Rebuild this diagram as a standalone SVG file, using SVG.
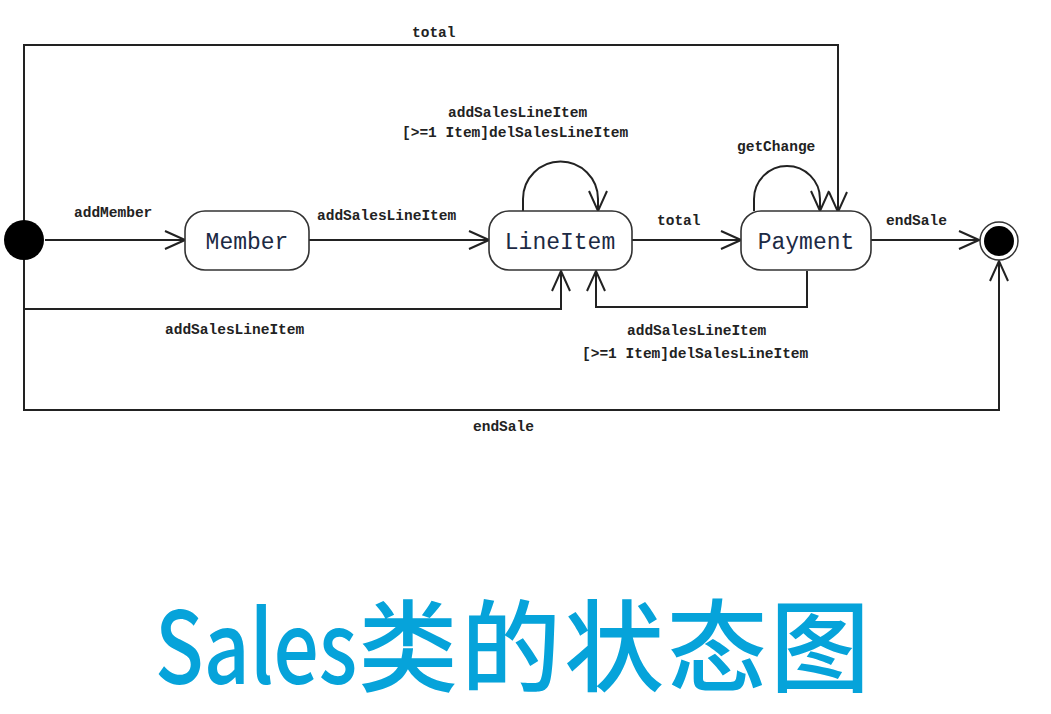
<svg xmlns="http://www.w3.org/2000/svg" width="1051" height="714" viewBox="0 0 1051 714">
<defs>
<marker id="arr" viewBox="0 0 22 20" refX="21" refY="10" markerWidth="22" markerHeight="20" markerUnits="userSpaceOnUse" orient="auto">
<path d="M1,1 L21,10 L1,19" fill="none" stroke="#222" stroke-width="2"/>
</marker>
<style>
.ln{fill:none;stroke:#222;stroke-width:2}
.box{fill:#fff;stroke:#333;stroke-width:1.6}
.lbl{font-family:"Liberation Mono","DejaVu Sans Mono",monospace;font-size:14.5px;font-weight:bold;fill:#222}
.nt{font-family:"Liberation Mono","DejaVu Sans Mono",monospace;font-size:23px;fill:#1c2a44;text-anchor:middle}
.tt{font-family:"Noto Sans CJK SC",sans-serif;font-weight:500;fill:#06A3DA}
</style>
</defs>
<rect width="1051" height="714" fill="#fff"/>
<g id="connectors">
<path class="ln" d="M24,240 V410 H999 V261" marker-end="url(#arr)"/>
<path class="ln" d="M24,240 V45 H838 V212" marker-end="url(#arr)"/>
<path class="ln" d="M24,309 H561 V271" marker-end="url(#arr)"/>
<path class="ln" d="M807,271 V307 H596 V271" marker-end="url(#arr)"/>
<path class="ln" d="M45,240 H185" marker-end="url(#arr)"/>
<path class="ln" d="M309,240 H489" marker-end="url(#arr)"/>
<path class="ln" d="M632,240 H741" marker-end="url(#arr)"/>
<path class="ln" d="M871,240 H979" marker-end="url(#arr)"/>
<path class="ln" d="M523,211 V199 A37.5,37.5 0 0 1 598,199 V211" marker-end="url(#arr)"/>
<path class="ln" d="M754,211 V199 A33,33 0 0 1 820,199 V211" marker-end="url(#arr)"/>
<text class="lbl" x="412" y="37">total</text>
<text class="lbl" x="74" y="217">addMember</text>
<text class="lbl" x="317" y="220">addSalesLineItem</text>
<text class="lbl" x="448" y="117">addSalesLineItem</text>
<text class="lbl" x="402" y="137">[&gt;=1 Item]delSalesLineItem</text>
<text class="lbl" x="657" y="225">total</text>
<text class="lbl" x="737" y="151">getChange</text>
<text class="lbl" x="886" y="225">endSale</text>
<text class="lbl" x="165" y="334">addSalesLineItem</text>
<text class="lbl" x="627" y="335">addSalesLineItem</text>
<text class="lbl" x="582" y="358">[&gt;=1 Item]delSalesLineItem</text>
<text class="lbl" x="473" y="431">endSale</text>
</g>
<g id="initial"><circle cx="24" cy="240" r="20" fill="#000"/></g>
<g id="member"><rect class="box" x="185" y="211" width="124" height="59" rx="20"/><text class="nt" x="247" y="249">Member</text></g>
<g id="lineitem"><rect class="box" x="489" y="211" width="143" height="59" rx="20"/><text class="nt" x="560" y="249">LineItem</text></g>
<g id="payment"><rect class="box" x="741" y="211" width="130" height="59" rx="20"/><text class="nt" x="806" y="249">Payment</text></g>
<g id="final"><circle cx="999" cy="241" r="19" fill="#fff" stroke="#333" stroke-width="1.5"/><circle cx="999" cy="241" r="15" fill="#000"/></g>
<g id="title">
<text class="tt" font-size="80" transform="translate(155,684) scale(1,1.25)" x="0" y="0">Sales</text>
<text class="tt" font-size="100" letter-spacing="3" x="358" y="684">类的状态图</text>
</g>
</svg>
